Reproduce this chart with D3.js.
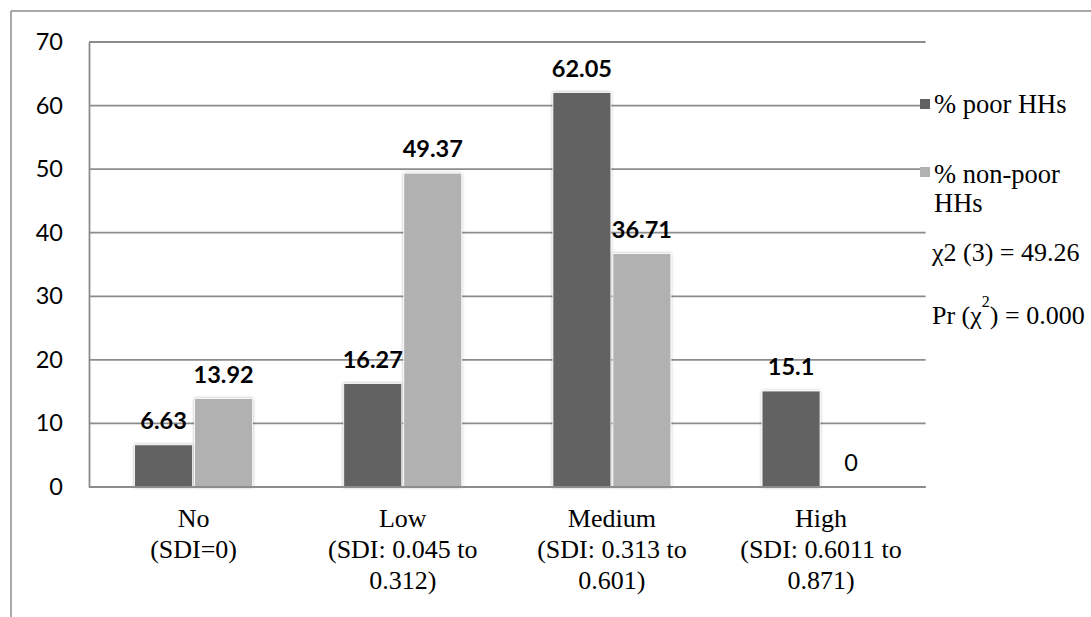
<!DOCTYPE html>
<html>
<head>
<meta charset="utf-8">
<script src="https://cdn.jsdelivr.net/npm/d3@7"></script>
<style>
  html, body { margin: 0; padding: 0; background: #fff; }
  svg { display: block; }
  .serif { font-family: "Liberation Serif", "Times New Roman", Tinos, serif; }
</style>
</head>
<body>
<svg id="chart" width="1091" height="617"></svg>
<script>
// ---- data ----
const categories = [
  ["No", "(SDI=0)"],
  ["Low", "(SDI: 0.045 to", "0.312)"],
  ["Medium", "(SDI: 0.313 to", "0.601)"],
  ["High", "(SDI: 0.6011 to", "0.871)"]
];
const seriesNames = ["% poor HHs", "% non-poor HHs"];
const poorValues = [6.63, 16.27, 62.05, 15.1];
const nonPoorValues = [13.92, 49.37, 36.71, 0];
const valueLabels = [["6.63", "16.27", "62.05", "15.1"], ["13.92", "49.37", "36.71", "0"]];
const yTicks = [0, 10, 20, 30, 40, 50, 60, 70];
const chiLine = "χ2 (3) = 49.26";

(function () {
// ---- layout ----
const svg = d3.select("#chart");
const pLeft = 89, pRight = 925.6, pTop = 42, pBottom = 487;
const colors = ["#626262", "#b1b1b1"];
const gridColor = "#8c8c8c";

const defs = svg.append("defs");
const f = defs.append("filter").attr("id", "shadow").attr("x", "-20%").attr("y", "-20%").attr("width", "140%").attr("height", "140%");
f.append("feDropShadow").attr("dx", 0).attr("dy", 0).attr("stdDeviation", 1.6)
  .attr("flood-color", "#000").attr("flood-opacity", 0.3);

// outer frame
svg.append("line").attr("x1", 11).attr("x2", 1091).attr("y1", 11).attr("y2", 11)
  .attr("stroke", gridColor).attr("stroke-width", 1.5);
svg.append("line").attr("x1", 11).attr("x2", 11).attr("y1", 11).attr("y2", 617)
  .attr("stroke", gridColor).attr("stroke-width", 1.5);

const y = d3.scaleLinear().domain([0, 70]).range([pBottom, pTop]);
const x0 = d3.scaleBand().domain(d3.range(categories.length)).range([pLeft, pRight]).padding(0);
const x1 = d3.scaleBand().domain(d3.range(seriesNames.length))
  .range([45.6, 163.6]).paddingInner(0.034);

// gridlines
svg.append("g").selectAll("line").data(yTicks).join("line")
  .attr("x1", pLeft).attr("x2", pRight)
  .attr("y1", d => y(d)).attr("y2", d => y(d))
  .attr("stroke", gridColor).attr("stroke-width", 1.8);

// y axis
const yAxis = svg.append("g").attr("transform", `translate(${pLeft},0)`)
  .call(d3.axisLeft(y).tickValues(yTicks).tickSize(0).tickPadding(26));
yAxis.select(".domain").attr("stroke", gridColor).attr("stroke-width", 1.8);
yAxis.selectAll("text").attr("font-family", "Lato, 'Open Sans', sans-serif")
  .attr("font-size", 23.5).attr("fill", "#000");

// bars
const series = [poorValues, nonPoorValues];
const groups = svg.append("g").selectAll("g").data(series).join("g");
groups.selectAll("rect").data((vals, s) => vals.map((v, i) => ({ v, i, s }))).join("rect")
  .filter(d => d.v > 0)
  .attr("x", d => x0(d.i) + x1(d.s))
  .attr("width", x1.bandwidth())
  .attr("y", d => y(d.v))
  .attr("height", d => y(0) - y(d.v))
  .attr("fill", d => colors[d.s])
  .attr("stroke", "#fff").attr("stroke-width", 0.8)
  .attr("filter", "url(#shadow)");

// bottom axis line over bars
svg.append("line").attr("x1", pLeft).attr("x2", pRight).attr("y1", y(0)).attr("y2", y(0))
  .attr("stroke", gridColor).attr("stroke-width", 1.8);

// value labels
groups.selectAll("text").data((vals, s) => vals.map((v, i) => ({ v, i, s }))).join("text")
  .attr("x", d => x0(d.i) + x1(d.s) + x1.bandwidth() / 2)
  .attr("y", d => y(d.v) - 16)
  .attr("text-anchor", "middle")
  .attr("font-family", "Lato, 'Open Sans', sans-serif")
  .attr("font-size", 23.5)
  .attr("font-weight", d => d.v === 0 ? "normal" : "bold")
  .attr("fill", "#000")
  .text(d => valueLabels[d.s][d.i]);

// category labels
const cat = svg.append("g").selectAll("text").data(categories).join("text")
  .attr("class", "serif")
  .attr("x", (d, i) => x0(i) + x0.bandwidth() / 2)
  .attr("y", 527)
  .attr("text-anchor", "middle")
  .attr("font-size", 26).attr("fill", "#000");
cat.selectAll("tspan").data(d => d).join("tspan")
  .attr("x", function () { return d3.select(this.parentNode).attr("x"); })
  .attr("dy", (d, j) => j === 0 ? 0 : 31)
  .text(d => d);

// legend
const leg = svg.append("g").attr("class", "serif");
const legendY = [104, 172];
seriesNames.forEach((name, s) => {
  leg.append("rect").attr("x", 920).attr("y", legendY[s] - 5).attr("width", 10).attr("height", 10)
    .attr("fill", colors[s]);
});
leg.append("text").attr("x", 934).attr("y", 113).attr("font-size", 26.5)
  .text(seriesNames[0]);
const t2 = leg.append("text").attr("x", 934).attr("y", 183).attr("font-size", 26.5);
t2.append("tspan").attr("x", 934).text("% non-poor");
t2.append("tspan").attr("x", 934).attr("dy", 29).text("HHs");

leg.append("text").attr("x", 932).attr("y", 261).attr("font-size", 26)
  .text(chiLine);
const pr = leg.append("text").attr("x", 932).attr("y", 324).attr("font-size", 26);
pr.append("tspan").text("Pr (χ");
pr.append("tspan").attr("dy", -17).attr("font-size", 16).text("2");
pr.append("tspan").attr("dy", 17).text(") = 0.000");
})();
</script>
</body>
</html>
